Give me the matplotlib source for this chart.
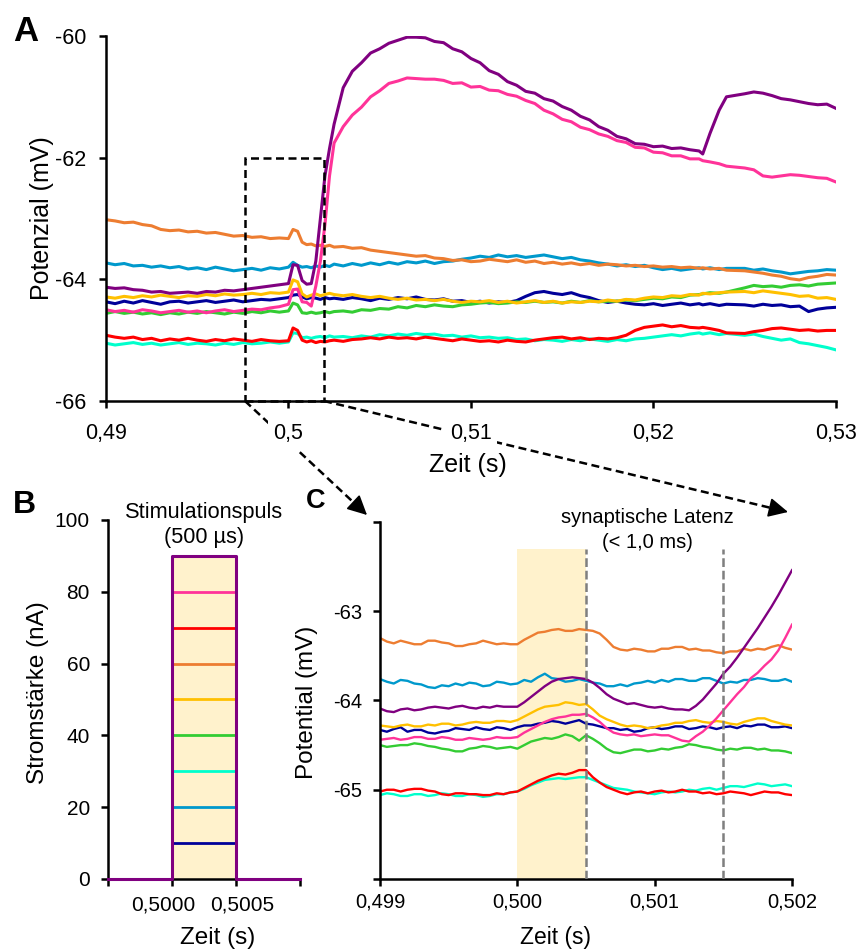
import matplotlib.pyplot as plt
from matplotlib.lines import Line2D
from matplotlib.patches import Rectangle

plt.rcParams['font.family'] = ['Liberation Sans', 'DejaVu Sans']
plt.rcParams['axes.unicode_minus'] = False

# stimulus amplitudes (nA) and colours of the traces
amps = [10, 20, 30, 40, 50, 60, 70, 80, 90]
colors = ['#000099', '#0099CC', '#00FFCC', '#33CC33', '#FFC000',
          '#ED7D31', '#FF0000', '#FF3399', '#800080']
pulse_on = 0.5000
pulse_off = 0.5005
latency_end = 0.5015

# panel A: time (s)
tA = [0.4900, 0.4905, 0.4910, 0.4915, 0.4920, 0.4925, 0.4930, 0.4935, 0.4940, 0.4945,
      0.4950, 0.4955, 0.4960, 0.4965, 0.4970, 0.4975, 0.4980, 0.4985, 0.4990, 0.4995,
      0.50000, 0.50025, 0.50050, 0.50075, 0.50100, 0.50125, 0.50150, 0.50175, 0.50200,
      0.50225, 0.50250,
      0.5030, 0.5035, 0.5040, 0.5045, 0.5050, 0.5055, 0.5060, 0.5065, 0.5070, 0.5075,
      0.5080, 0.5085, 0.5090, 0.5095, 0.5100, 0.5105, 0.5110, 0.5115, 0.5120, 0.5125,
      0.5130, 0.5135, 0.5140, 0.5145, 0.5150, 0.5155, 0.5160, 0.5165, 0.5170, 0.5175,
      0.5180, 0.5185, 0.5190, 0.5195, 0.5200, 0.5205, 0.5210, 0.5215, 0.5220, 0.5225,
      0.5227, 0.5231, 0.5236, 0.5240,
      0.5250, 0.5255, 0.5260, 0.5265, 0.5270, 0.5275, 0.5280, 0.5285, 0.5290, 0.5295,
      0.5300]

# panel A: membrane potential (mV) per stimulus amplitude
a_10 = [-64.37, -64.40, -64.36, -64.39, -64.35, -64.38, -64.41, -64.37, -64.36, -64.39,
        -64.37, -64.35, -64.38, -64.36, -64.34, -64.37, -64.35, -64.33, -64.34, -64.32,
        -64.30, -64.26, -64.25, -64.29, -64.32, -64.30, -64.31, -64.33, -64.30, -64.32, -64.31,
        -64.33, -64.30, -64.32, -64.35, -64.31, -64.33, -64.30, -64.32, -64.29, -64.33,
        -64.34, -64.32, -64.36, -64.35, -64.38, -64.36, -64.39, -64.37, -64.38, -64.35,
        -64.28, -64.22, -64.20, -64.23, -64.25, -64.22, -64.27, -64.30, -64.35, -64.38,
        -64.36, -64.39, -64.41, -64.42, -64.40, -64.43, -64.41, -64.39, -64.42, -64.40,
        -64.42, -64.40, -64.43, -64.41,
        -64.42, -64.44, -64.41, -64.43, -64.42, -64.45, -64.44, -64.53, -64.49, -64.47,
        -64.46]
a_20 = [-63.73, -63.76, -63.74, -63.78, -63.77, -63.80, -63.78, -63.81, -63.79, -63.83,
        -63.81, -63.84, -63.80, -63.83, -63.86, -63.84, -63.82, -63.85, -63.81, -63.83,
        -63.80, -63.72, -63.77, -63.80, -63.79, -63.81, -63.78, -63.80, -63.77, -63.79, -63.75,
        -63.78, -63.74, -63.77, -63.73, -63.76, -63.72, -63.75, -63.71, -63.73, -63.70,
        -63.74, -63.71, -63.70, -63.67, -63.65, -63.62, -63.64, -63.60, -63.63, -63.61,
        -63.64, -63.62, -63.60, -63.63, -63.66, -63.64, -63.68, -63.70, -63.73, -63.75,
        -63.78, -63.76, -63.79, -63.77, -63.81, -63.84, -63.82, -63.85, -63.83, -63.81,
        -63.83, -63.81, -63.84, -63.82,
        -63.82, -63.85, -63.83, -63.86, -63.88, -63.91, -63.89, -63.87, -63.86, -63.84,
        -63.85]
a_30 = [-65.05, -65.08, -65.06, -65.04, -65.07, -65.05, -65.08, -65.06, -65.04, -65.07,
        -65.05, -65.06, -65.08, -65.05, -65.07, -65.04, -65.06, -65.05, -65.03, -65.05,
        -65.03, -64.88, -64.89, -64.96, -64.95, -64.97, -64.95, -64.94, -64.96, -64.93, -64.95,
        -64.94, -64.96, -64.93, -64.95, -64.91, -64.93, -64.90, -64.92, -64.89, -64.91,
        -64.90, -64.93, -64.92, -64.95, -64.93, -64.96, -64.95, -64.97, -64.96, -64.99,
        -64.98, -65.01, -64.99, -65.00, -65.02, -64.99, -65.01, -64.98, -65.00, -65.02,
        -64.99, -65.01, -64.98, -64.97, -64.95, -64.93, -64.91, -64.93, -64.90, -64.88,
        -64.90, -64.88, -64.91, -64.89,
        -64.92, -64.90, -64.94, -64.97, -65.00, -64.98, -65.04, -65.06, -65.09, -65.12,
        -65.16]
a_40 = [-64.56, -64.53, -64.56, -64.54, -64.57, -64.55, -64.58, -64.55, -64.57, -64.54,
        -64.56, -64.53, -64.55, -64.57, -64.54, -64.56, -64.53, -64.55, -64.52, -64.54,
        -64.52, -64.39, -64.42, -64.55, -64.56, -64.54, -64.56, -64.55, -64.53, -64.55, -64.53,
        -64.52, -64.54, -64.50, -64.51, -64.48, -64.49, -64.45, -64.47, -64.43, -64.45,
        -64.42, -64.44, -64.45, -64.42, -64.41, -64.39, -64.38, -64.40, -64.39, -64.37,
        -64.38, -64.36, -64.38, -64.37, -64.39, -64.36, -64.38, -64.35, -64.37, -64.36,
        -64.36, -64.34, -64.35, -64.33, -64.31, -64.32, -64.29, -64.30, -64.26, -64.25,
        -64.24, -64.22, -64.23, -64.21,
        -64.14, -64.10, -64.12, -64.11, -64.13, -64.10, -64.09, -64.11, -64.08, -64.07,
        -64.06]
a_50 = [-64.29, -64.31, -64.28, -64.30, -64.27, -64.29, -64.26, -64.28, -64.30, -64.27,
        -64.28, -64.25, -64.27, -64.24, -64.26, -64.25, -64.23, -64.25, -64.22, -64.23,
        -64.21, -64.01, -64.04, -64.24, -64.29, -64.26, -64.24, -64.27, -64.25, -64.23, -64.25,
        -64.27, -64.25, -64.28, -64.30, -64.28, -64.31, -64.33, -64.31, -64.34, -64.33,
        -64.35, -64.33, -64.36, -64.38, -64.36, -64.37, -64.35, -64.38, -64.36, -64.39,
        -64.37, -64.35, -64.38, -64.36, -64.39, -64.37, -64.38, -64.36, -64.37, -64.34,
        -64.36, -64.33, -64.34, -64.31, -64.29, -64.30, -64.27, -64.28, -64.25, -64.26,
        -64.23, -64.24, -64.22, -64.21,
        -64.20, -64.22, -64.19, -64.21, -64.23, -64.25, -64.28, -64.27, -64.31, -64.30,
        -64.33]
a_60 = [-63.02, -63.04, -63.07, -63.06, -63.10, -63.12, -63.18, -63.20, -63.19, -63.22,
        -63.21, -63.24, -63.23, -63.26, -63.29, -63.28, -63.31, -63.30, -63.33, -63.32,
        -63.33, -63.18, -63.21, -63.39, -63.43, -63.42, -63.45, -63.44, -63.46, -63.44, -63.47,
        -63.46, -63.49, -63.48, -63.52, -63.54, -63.56, -63.58, -63.60, -63.62, -63.61,
        -63.65, -63.66, -63.69, -63.68, -63.71, -63.70, -63.67, -63.69, -63.71, -63.68,
        -63.72, -63.70, -63.74, -63.72, -63.75, -63.73, -63.76, -63.74, -63.77, -63.75,
        -63.76, -63.78, -63.77, -63.79, -63.78, -63.80, -63.79, -63.81, -63.80, -63.82,
        -63.81, -63.83, -63.82, -63.85,
        -63.86, -63.88, -63.90, -63.93, -63.95, -63.99, -64.01, -63.97, -63.95, -63.92,
        -63.93]
a_70 = [-64.92, -64.95, -64.97, -64.95, -64.99, -64.97, -65.01, -64.98, -65.00, -64.97,
        -65.00, -65.02, -64.99, -65.01, -64.98, -65.00, -65.02, -64.99, -65.01, -65.02,
        -65.01, -64.80, -64.84, -65.00, -65.03, -65.01, -65.04, -65.02, -65.03, -65.01, -65.00,
        -65.02, -64.99, -64.98, -64.96, -64.98, -64.95, -64.97, -64.96, -64.98, -64.95,
        -64.97, -64.99, -65.01, -64.98, -65.00, -65.02, -65.01, -65.03, -65.00, -65.02,
        -65.03, -65.00, -64.98, -64.96, -64.95, -64.98, -64.96, -64.99, -64.97, -64.98,
        -64.96, -64.92, -64.84, -64.79, -64.77, -64.75, -64.78, -64.76, -64.79, -64.80,
        -64.79, -64.81, -64.84, -64.88,
        -64.89, -64.86, -64.84, -64.81, -64.80, -64.82, -64.84, -64.83, -64.85, -64.84,
        -64.84]
a_80 = [-64.50, -64.53, -64.51, -64.54, -64.50, -64.52, -64.55, -64.53, -64.51, -64.54,
        -64.52, -64.55, -64.52, -64.50, -64.53, -64.51, -64.49, -64.50, -64.47, -64.45,
        -64.41, -64.17, -64.16, -64.37, -64.38, -64.44, -64.11, -63.70, -63.10, -62.30, -61.76,
        -61.49, -61.30, -61.17, -61.00, -60.90, -60.78, -60.74, -60.69, -60.70, -60.71,
        -60.71, -60.73, -60.78, -60.77, -60.84, -60.83, -60.89, -60.90, -60.96, -60.99,
        -61.06, -61.11, -61.22, -61.28, -61.37, -61.41, -61.50, -61.54, -61.61, -61.65,
        -61.72, -61.75, -61.83, -61.84, -61.91, -61.92, -61.97, -61.97, -62.02, -62.02,
        -62.05, -62.07, -62.10, -62.14,
        -62.17, -62.20, -62.30, -62.32, -62.30, -62.28, -62.29, -62.31, -62.33, -62.34,
        -62.40]
a_90 = [-64.13, -64.15, -64.14, -64.17, -64.18, -64.21, -64.20, -64.23, -64.22, -64.21,
        -64.23, -64.20, -64.21, -64.18, -64.19, -64.17, -64.15, -64.13, -64.11, -64.09,
        -64.07, -63.76, -63.77, -64.02, -64.08, -64.07, -63.70, -63.00, -62.30, -61.85, -61.45,
        -60.85, -60.58, -60.44, -60.28, -60.21, -60.12, -60.07, -60.02, -60.02, -60.03,
        -60.09, -60.11, -60.21, -60.26, -60.37, -60.44, -60.57, -60.63, -60.75, -60.81,
        -60.91, -60.94, -61.03, -61.07, -61.16, -61.22, -61.32, -61.38, -61.49, -61.55,
        -61.65, -61.69, -61.77, -61.78, -61.82, -61.81, -61.85, -61.84, -61.87, -61.89,
        -61.94, -61.60, -61.22, -61.00,
        -60.95, -60.92, -60.94, -60.98, -61.03, -61.05, -61.08, -61.11, -61.13, -61.12,
        -61.19]

# panel C: zoomed time axis (0.499 ... 0.502 s, 50 µs sampling)
tC = [round(0.499 + 0.00005 * i, 5) for i in range(61)]

c_10 = [-64.33, -64.35, -64.32, -64.30, -64.35, -64.33, -64.33, -64.36, -64.37, -64.35,
        -64.34, -64.31, -64.32, -64.33, -64.30, -64.32, -64.33, -64.30, -64.31, -64.33,
        -64.30, -64.28, -64.28, -64.26, -64.25, -64.23, -64.24, -64.26, -64.24, -64.22,
        -64.26, -64.27, -64.29, -64.31, -64.31, -64.33, -64.32, -64.35, -64.34, -64.31,
        -64.30, -64.32, -64.31, -64.29, -64.29, -64.32, -64.31, -64.29, -64.30, -64.32,
        -64.30, -64.29, -64.31, -64.28, -64.29, -64.27, -64.27, -64.30, -64.30, -64.29,
        -64.31]
c_20 = [-63.76, -63.79, -63.81, -63.77, -63.78, -63.81, -63.82, -63.85, -63.86, -63.83,
        -63.84, -63.81, -63.83, -63.80, -63.81, -63.84, -63.83, -63.79, -63.80, -63.82,
        -63.81, -63.77, -63.79, -63.74, -63.70, -63.75, -63.76, -63.79, -63.78, -63.76,
        -63.78, -63.80, -63.81, -63.84, -63.84, -63.82, -63.84, -63.81, -63.80, -63.78,
        -63.80, -63.77, -63.79, -63.76, -63.76, -63.78, -63.78, -63.75, -63.75, -63.78,
        -63.81, -63.79, -63.80, -63.77, -63.77, -63.75, -63.76, -63.78, -63.78, -63.76,
        -63.79]
c_30 = [-65.06, -65.04, -65.05, -65.07, -65.07, -65.05, -65.05, -65.07, -65.06, -65.04,
        -65.05, -65.07, -65.07, -65.05, -65.06, -65.08, -65.07, -65.05, -65.05, -65.03,
        -65.02, -64.99, -64.95, -64.92, -64.89, -64.88, -64.87, -64.88, -64.87, -64.86,
        -64.86, -64.89, -64.92, -64.95, -64.98, -64.99, -65.00, -65.02, -65.03, -65.04,
        -65.05, -65.03, -65.02, -65.03, -65.02, -65.00, -65.01, -64.99, -64.98, -65.00,
        -64.98, -64.96, -64.96, -64.97, -64.95, -64.93, -64.94, -64.96, -64.95, -64.94,
        -64.96]
c_40 = [-64.50, -64.52, -64.51, -64.50, -64.50, -64.48, -64.49, -64.51, -64.52, -64.54,
        -64.55, -64.57, -64.57, -64.54, -64.53, -64.51, -64.52, -64.54, -64.53, -64.52,
        -64.54, -64.50, -64.46, -64.44, -64.42, -64.43, -64.41, -64.38, -64.40, -64.45,
        -64.39, -64.43, -64.48, -64.54, -64.58, -64.59, -64.57, -64.55, -64.55, -64.57,
        -64.56, -64.54, -64.55, -64.53, -64.52, -64.49, -64.50, -64.52, -64.53, -64.55,
        -64.56, -64.54, -64.55, -64.53, -64.53, -64.55, -64.54, -64.56, -64.56, -64.57,
        -64.59]
c_50 = [-64.28, -64.29, -64.30, -64.28, -64.27, -64.29, -64.29, -64.27, -64.28, -64.26,
        -64.26, -64.28, -64.27, -64.25, -64.24, -64.25, -64.25, -64.23, -64.23, -64.24,
        -64.22, -64.18, -64.14, -64.10, -64.07, -64.06, -64.05, -64.02, -64.03, -64.05,
        -64.04, -64.10, -64.17, -64.21, -64.24, -64.27, -64.29, -64.28, -64.29, -64.31,
        -64.30, -64.28, -64.27, -64.25, -64.25, -64.23, -64.22, -64.24, -64.25, -64.23,
        -64.24, -64.26, -64.27, -64.24, -64.22, -64.20, -64.20, -64.23, -64.25, -64.27,
        -64.28]
c_60 = [-63.30, -63.34, -63.36, -63.33, -63.35, -63.37, -63.37, -63.33, -63.33, -63.35,
        -63.36, -63.39, -63.39, -63.37, -63.36, -63.33, -63.35, -63.37, -63.36, -63.37,
        -63.37, -63.32, -63.28, -63.24, -63.23, -63.21, -63.20, -63.22, -63.22, -63.20,
        -63.21, -63.22, -63.25, -63.32, -63.40, -63.43, -63.44, -63.42, -63.43, -63.45,
        -63.45, -63.42, -63.42, -63.40, -63.40, -63.43, -63.42, -63.44, -63.44, -63.46,
        -63.47, -63.45, -63.45, -63.42, -63.44, -63.42, -63.43, -63.40, -63.38, -63.41,
        -63.43]
c_70 = [-65.02, -65.00, -65.00, -65.02, -65.00, -64.99, -64.99, -65.01, -65.02, -65.05,
        -65.06, -65.04, -65.04, -65.05, -65.05, -65.06, -65.06, -65.04, -65.05, -65.03,
        -65.02, -64.98, -64.94, -64.90, -64.87, -64.84, -64.82, -64.83, -64.81, -64.78,
        -64.78, -64.86, -64.92, -64.97, -65.00, -65.03, -65.05, -65.03, -65.02, -65.04,
        -65.02, -65.01, -65.03, -65.02, -65.00, -65.02, -65.02, -65.04, -65.03, -65.05,
        -65.04, -65.02, -65.03, -65.04, -65.06, -65.04, -65.02, -65.03, -65.03, -65.05,
        -65.06]
c_80 = [-64.44, -64.43, -64.42, -64.44, -64.43, -64.41, -64.41, -64.43, -64.43, -64.41,
        -64.42, -64.44, -64.44, -64.42, -64.43, -64.44, -64.43, -64.41, -64.42, -64.42,
        -64.41, -64.36, -64.32, -64.28, -64.24, -64.21, -64.19, -64.18, -64.16, -64.16,
        -64.15, -64.19, -64.24, -64.31, -64.36, -64.38, -64.39, -64.38, -64.40, -64.39,
        -64.38, -64.39, -64.39, -64.42, -64.45, -64.46, -64.40, -64.35, -64.28, -64.20,
        -64.11, -64.02, -63.93, -63.85, -63.75, -63.69, -63.61, -63.54, -63.44, -63.30,
        -63.15]
c_90 = [-64.09, -64.12, -64.13, -64.10, -64.09, -64.11, -64.10, -64.08, -64.07, -64.08,
        -64.09, -64.07, -64.06, -64.08, -64.09, -64.07, -64.08, -64.06, -64.07, -64.07,
        -64.07, -64.02, -63.96, -63.90, -63.84, -63.79, -63.76, -63.75, -63.74, -63.75,
        -63.76, -63.80, -63.86, -63.93, -63.98, -64.01, -64.04, -64.03, -64.05, -64.07,
        -64.08, -64.07, -64.09, -64.10, -64.10, -64.11, -64.06, -63.99, -63.90, -63.81,
        -63.70, -63.62, -63.52, -63.41, -63.30, -63.19, -63.07, -62.95, -62.82, -62.68,
        -62.54]

traces_A = [a_10, a_20, a_30, a_40, a_50, a_60, a_70, a_80, a_90]
traces_C = [c_10, c_20, c_30, c_40, c_50, c_60, c_70, c_80, c_90]

fig = plt.figure(figsize=(8.58, 9.52), dpi=100)
W, H = 858.0, 952.0


def px(x, y):
    return (x / W, 1 - y / H)


def style(ax, size, padx, pady):
    for s in ['top', 'right']:
        ax.spines[s].set_visible(False)
    for s in ['left', 'bottom']:
        ax.spines[s].set_linewidth(1.8)
    ax.tick_params(direction='out', length=5, width=1.8, labelsize=size)
    ax.tick_params(axis='x', pad=padx)
    ax.tick_params(axis='y', pad=pady)


# ---- A ----
axA = fig.add_axes([0.1235, 0.5788, 0.8508, 0.3834])
for tr, c in zip(traces_A, colors):
    axA.plot(tA, tr, color=c, lw=2.2)
axA.set_xlim(0.49, 0.53)
axA.set_ylim(-66, -60)
axA.set_yticks([-66, -64, -62, -60], ['-66', '-64', '-62', '-60'])
axA.set_xticks([0.49, 0.50, 0.51, 0.52, 0.53], ['0,49', '0,5', '0,51', '0,52', '0,53'])
style(axA, 15.5, 11, 9)
for lbl in axA.get_xticklabels():
    lbl.set_bbox(dict(facecolor='white', edgecolor='none', pad=4))
axA.set_ylabel('Potenzial (mV)', fontsize=18, va='center')
axA.yaxis.set_label_coords(-0.0877, 0.5)
axA.set_xlabel('Zeit (s)', fontsize=18, va='center')
axA.xaxis.set_label_coords(0.496, -0.175)
axA.add_patch(Rectangle((0.4976, -66), 0.00435, 4, fill=False, ec='black',
                        lw=1.8, ls=(0, (3.2, 1.8)), zorder=3, clip_on=False))

# connector lines to panel C (drawn below the tick labels)
for start, tip in [((245, 401), (367, 515)), ((324, 401), (788, 512))]:
    dx, dy = tip[0] - start[0], tip[1] - start[1]
    L = (dx ** 2 + dy ** 2) ** 0.5
    base = (tip[0] - 15 * dx / L, tip[1] - 15 * dy / L)
    p0, p1 = px(*start), px(*base)
    axA.add_line(Line2D([p0[0], p1[0]], [p0[1], p1[1]], transform=fig.transFigure,
                        color='black', lw=1.8, ls=(0, (3.2, 1.8)), clip_on=False, zorder=1))
    back = (tip[0] - 17 * dx / L, tip[1] - 17 * dy / L)
    axA.annotate('', xy=px(*tip), xycoords='figure fraction', xytext=px(*back),
                 textcoords='figure fraction', annotation_clip=False,
                 arrowprops=dict(arrowstyle='-|>', color='black', lw=1.2,
                                 mutation_scale=30, shrinkA=0, shrinkB=0))

# ---- B ----
axB = fig.add_axes([0.1259, 0.0767, 0.2238, 0.3771])
axB.axvspan(pulse_on, pulse_off, ymin=0, ymax=0.9, color='#FFF2CC', lw=0, zorder=0)
for a, c in zip(amps[:-1], colors[:-1]):
    axB.plot([pulse_on, pulse_off], [a, a], color=c, lw=2.0, zorder=2)
axB.plot([0.4995, pulse_on, pulse_on, pulse_off, pulse_off, 0.5010],
         [0, 0, amps[-1], amps[-1], 0, 0], color=colors[-1], lw=2.2,
         clip_on=False, zorder=4)
axB.set_xlim(0.4995, 0.5010)
axB.set_ylim(0, 100)
axB.set_yticks([0, 20, 40, 60, 80, 100], ['0', '20', '40', '60', '80', '100'])
axB.set_xticks([0.4995, 0.5000, 0.5005, 0.5010], ['', '', '', ''])
style(axB, 15, 5, 8)
# x labels set slightly apart, as in the original
for x, lab, shift in [(pulse_on, '0,5000', -6.5), (pulse_off, '0,5005', 4.7)]:
    axB.annotate(lab, xy=(x, 0), xycoords=('data', 'axes fraction'),
                 xytext=(shift, -23), textcoords='offset points',
                 ha='center', va='baseline', fontsize=15, annotation_clip=False)
axB.set_ylabel('Stromstärke (nA)', fontsize=17.5, va='center')
axB.yaxis.set_label_coords(-0.365, 0.52)
axB.set_xlabel('Zeit (s)', fontsize=17.5, va='center')
axB.xaxis.set_label_coords(0.573, -0.164)
axB.text((pulse_on + pulse_off) / 2, 98.6, 'Stimulationspuls\n(500 µs)', fontsize=15.7,
         ha='center', va='center', linespacing=1.3, clip_on=False)

# ---- C ----
axC = fig.add_axes([0.4429, 0.0767, 0.4802, 0.3750])
axC.set_xlim(0.499, 0.502)
axC.set_ylim(-66, -62)
axC.fill_between([pulse_on, pulse_off], -66, -62.3, color='#FFF2CC', lw=0, zorder=0)
for tr, c in zip(traces_C, colors):
    axC.plot(tC, tr, color=c, lw=1.7, zorder=2)
axC.vlines([pulse_off, latency_end], -66, -62.3, colors='#7F7F7F', lw=1.8,
           linestyles=(0, (3.5, 1.5)), zorder=3)
axC.set_yticks([-66, -65, -64, -63, -62], ['', '-65', '-64', '-63', ''])
axC.set_xticks([0.499, 0.500, 0.501, 0.502], ['0,499', '0,500', '0,501', '0,502'])
style(axC, 14.5, 5, 8)
axC.set_ylabel('Potential (mV)', fontsize=17.5, va='center')
axC.yaxis.set_label_coords(-0.177, 0.496)
axC.set_xlabel('Zeit (s)', fontsize=16.5, va='center')
axC.xaxis.set_label_coords(0.427, -0.165)
axC.text(0.50095, -62.09, 'synaptische Latenz\n(< 1,0 ms)', fontsize=14.5,
         ha='center', va='center', linespacing=1.35, clip_on=False)

# panel letters
fig.text(*px(13, 41), 'A', fontsize=25, fontweight='bold', va='baseline')
fig.text(*px(13, 513), 'B', fontsize=23, fontweight='bold', va='baseline')
fig.text(*px(306, 508), 'C', fontsize=19.5, fontweight='bold', va='baseline')

fig.savefig('out.png', dpi=100)
